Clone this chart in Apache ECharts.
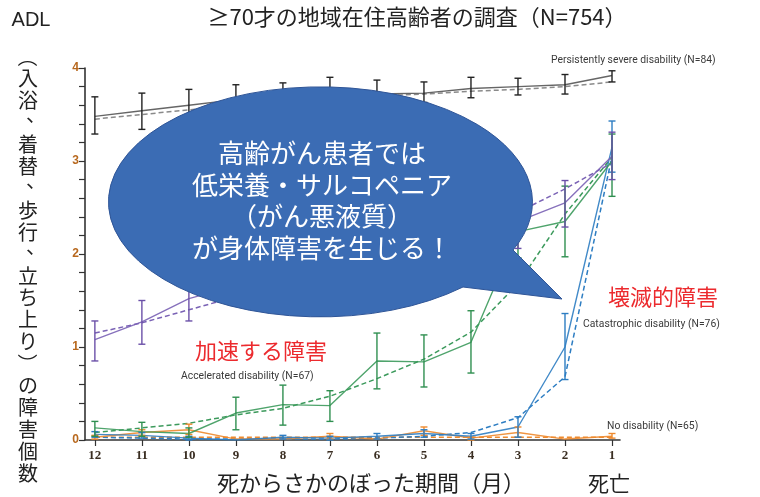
<!DOCTYPE html>
<html><head><meta charset="utf-8">
<script src="https://cdn.jsdelivr.net/npm/echarts@6/dist/echarts.min.js"></script>
<style>html,body{margin:0;padding:0;background:#fff}#c{width:760px;height:497px}</style>
</head><body><div id="c"></div>
<script>
// ---- data ----
const months = [12, 11, 10, 9, 8, 7, 6, 5, 4, 3, 2, 1];
const xTicks = [12, 11, 10, 9, 8, 7, 6, 5, 4, 3, 2, 1];
const yTicks = [0, 1, 2, 3, 4];

const severe      = [3.48, 3.54, 3.60, 3.66, 3.69, 3.71, 3.72, 3.73, 3.78, 3.80, 3.82, 3.92];
const severeLow   = [3.29, 3.34, 3.43, 3.50, 3.55, 3.58, 3.60, 3.63, 3.68, 3.71, 3.72, 3.85];
const severeHigh  = [3.69, 3.73, 3.77, 3.82, 3.84, 3.90, 3.87, 3.85, 3.90, 3.89, 3.93, 3.97];
const severeTrend = [3.45, 3.50, 3.55, 3.60, 3.64, 3.67, 3.70, 3.72, 3.75, 3.77, 3.80, 3.85];

const progressive      = [1.08, 1.27, 1.52, 1.66, 1.80, 1.92, 2.02, 2.12, 2.23, 2.35, 2.55, 3.05];
const progressiveLow   = [0.85, 1.03, 1.28, 1.44, 1.58, 1.70, 1.80, 1.90, 2.00, 2.06, 2.29, 2.80];
const progressiveHigh  = [1.28, 1.50, 1.72, 1.88, 2.02, 2.14, 2.24, 2.34, 2.46, 2.62, 2.79, 3.31];
const progressiveTrend = [1.15, 1.26, 1.40, 1.54, 1.68, 1.82, 1.96, 2.10, 2.25, 2.45, 2.70, 2.98];

const accelerated      = [0.13, 0.09, 0.07, 0.29, 0.38, 0.37, 0.85, 0.84, 1.05, 2.24, 2.35, 3.00];
const acceleratedLow   = [0.04, 0.04, 0.03, 0.11, 0.16, 0.20, 0.55, 0.57, 0.72, 1.96, 1.97, 2.62];
const acceleratedHigh  = [0.20, 0.19, 0.13, 0.46, 0.59, 0.53, 1.15, 1.13, 1.39, 2.52, 2.73, 3.29];
const acceleratedTrend = [0.08, 0.13, 0.18, 0.27, 0.34, 0.47, 0.66, 0.87, 1.16, 1.68, 2.43, 3.04];

const catastrophic      = [0.06, 0.05, 0.02, 0.00, 0.03, 0.02, 0.04, 0.07, 0.04, 0.14, 1.00, 3.15];
const catastrophicLow   = [0.03, 0.02, 0.00, 0.00, 0.01, 0.00, 0.01, 0.03, 0.01, 0.03, 0.65, 2.88];
const catastrophicHigh  = [0.09, 0.08, 0.04, 0.01, 0.05, 0.04, 0.07, 0.11, 0.07, 0.25, 1.36, 3.43];
const catastrophicTrend = [0.03, 0.02, 0.01, 0.01, 0.01, 0.01, 0.02, 0.04, 0.08, 0.24, 0.68, 3.05];

const noDisability      = [0.03, 0.08, 0.11, 0.01, 0.01, 0.04, 0.01, 0.10, 0.02, 0.08, 0.01, 0.04];
const noDisabilityLow   = [0.01, 0.05, 0.06, 0.00, 0.00, 0.01, 0.00, 0.05, 0.00, 0.03, 0.00, 0.02];
const noDisabilityHigh  = [0.05, 0.11, 0.17, 0.01, 0.01, 0.07, 0.01, 0.14, 0.03, 0.14, 0.01, 0.07];
const noDisabilityTrend = [0.03, 0.03, 0.03, 0.03, 0.03, 0.03, 0.03, 0.03, 0.03, 0.03, 0.03, 0.03];

const titleText = '≥70才の地域在住高齢者の調査（N=754）';
const yTitleTop = 'ADL';
const yTitleVertical = '（入浴、着替、歩行、立ち上り）の障害個数';
const xTitle = '死からさかのぼった期間（月）';
const xTitleEnd = '死亡';
const bubbleLines = ['高齢がん患者では', '低栄養・サルコペニア', '（がん悪液質）', 'が身体障害を生じる！'];

// ---- chart ----
const JP = '"Noto Sans CJK JP", sans-serif';
const NARROW = '"Liberation Sans Narrow", "Roboto", sans-serif';

function pairs(vals) { return months.map((m, i) => [m, vals[i]]); }
function lineS(vals, color, dashed, width, z) {
  return {
    type: 'line', data: pairs(vals), symbol: 'none', silent: true, z: z,
    lineStyle: { color: color, width: width, type: dashed ? [5, 3] : 'solid', opacity: dashed ? 1 : 0.9 }
  };
}
function errS(low, high, color, z) {
  return {
    type: 'custom', silent: true, z: z,
    data: months.map((m, i) => [m, low[i], high[i]]),
    encode: { x: 0, y: [1, 2] },
    renderItem: function (params, api) {
      const x = api.value(0), lo = api.value(1), hi = api.value(2);
      if (hi - lo < 0.015) return null;
      const a = api.coord([x, lo]), b = api.coord([x, hi]);
      const w = 3.5, st = { stroke: color, lineWidth: 1.4 };
      return { type: 'group', children: [
        { type: 'line', shape: { x1: a[0], y1: a[1], x2: b[0], y2: b[1] }, style: st },
        { type: 'line', shape: { x1: a[0] - w, y1: a[1], x2: a[0] + w, y2: a[1] }, style: st },
        { type: 'line', shape: { x1: b[0] - w, y1: b[1], x2: b[0] + w, y2: b[1] }, style: st }
      ] };
    }
  };
}

const cOrange = '#ee8a2e', cBlue = '#2d7dc2', cGreen = '#2f8f50', cPurple = '#6b50a8';

const series = [
  lineS(noDisabilityTrend, cOrange, true, 1.5, 2),
  lineS(noDisability, cOrange, false, 1.4, 3),
  errS(noDisabilityLow, noDisabilityHigh, cOrange, 4),
  lineS(catastrophicTrend, cBlue, true, 1.5, 2),
  lineS(catastrophic, cBlue, false, 1.4, 3),
  errS(catastrophicLow, catastrophicHigh, cBlue, 4),
  lineS(acceleratedTrend, '#3c9a5c', true, 1.5, 2),
  lineS(accelerated, '#3c9a5c', false, 1.4, 3),
  errS(acceleratedLow, acceleratedHigh, cGreen, 4),
  lineS(progressiveTrend, '#7a62b5', true, 1.5, 2),
  lineS(progressive, '#7a62b5', false, 1.4, 3),
  errS(progressiveLow, progressiveHigh, cPurple, 4),
  lineS(severeTrend, '#8a8a8a', true, 1.5, 2),
  lineS(severe, '#555555', false, 1.4, 3),
  errS(severeLow, severeHigh, '#222222', 4),
  {
    // callout bubble (decoration, pixel space)
    type: 'custom', coordinateSystem: 'none', silent: true, z: 50, data: [0],
    renderItem: function () {
      return {
        type: 'path',
        shape: { pathData: 'M 513 250 L 562 299 L 463 287 A 212 115 0 1 1 513 250 Z' },
        style: { fill: '#3b6cb4', stroke: '#2f5597', lineWidth: 1 }
      };
    }
  }
];

const graphics = [];
function txt(text, x, y, font, fill, align, sx) {
  graphics.push({ type: 'text', z: 200, x: x, y: y, scaleX: sx || 1,
    style: { text: text, x: 0, y: 0, font: font, fill: fill, align: align || 'left', verticalAlign: 'middle' } });
}
txt(titleText, 417, 17, '22px ' + JP, '#222', 'center');
txt(yTitleTop, 31, 20, '20px "Liberation Sans", sans-serif', '#222', 'center');
Array.from(yTitleVertical).forEach((ch, i) => {
  const cy = 57 + i * 21.9;
  if (ch === '（' || ch === '）') {
    graphics.push({ type: 'text', z: 200, x: 28, y: cy, rotation: -Math.PI / 2,
      style: { text: ch, x: 0, y: 0, font: '20px ' + JP, fill: '#222', align: 'center', verticalAlign: 'middle' } });
  } else if (ch === '、') {
    txt(ch, 28 + 8, cy - 8, '20px ' + JP, '#222', 'center');
  } else {
    txt(ch, 28, cy, '20px ' + JP, '#222', 'center');
  }
});
txt(xTitle, 371, 483, '22px ' + JP, '#222', 'center');
txt(xTitleEnd, 609, 483, '21px ' + JP, '#222', 'center');

txt('Persistently severe disability (N=84)', 551, 60, '11.5px ' + NARROW, '#3a3a3a', 'left', 0.9);
txt('Catastrophic disability (N=76)', 583, 324, '11.5px ' + NARROW, '#3a3a3a', 'left', 0.9);
txt('No disability (N=65)', 607, 426, '11.5px ' + NARROW, '#3a3a3a', 'left', 0.9);
txt('Accelerated disability (N=67)', 181, 376, '11.5px ' + NARROW, '#3a3a3a', 'left', 0.9);
txt('壊滅的障害', 608, 297, '22px ' + JP, '#ec2a2e', 'left');
txt('加速する障害', 195, 351, '22px ' + JP, '#ec2a2e', 'left');

bubbleLines.forEach((s, i) => {
  txt(s, 322, 153 + i * 31.8, '26px ' + JP, '#ffffff', 'center');
});

const option = {
  animation: false,
  backgroundColor: '#ffffff',
  grid: { left: 85, right: 140, top: 68, bottom: 57 },
  xAxis: {
    type: 'value', inverse: true, min: 0.83, max: 12.21,
    splitLine: { show: false },
    axisLine: { show: true, lineStyle: { color: '#333', width: 1.6 } },
    axisTick: { show: true, customValues: xTicks, length: 6, lineStyle: { color: '#333', width: 1.2 } },
    axisLabel: { customValues: xTicks, margin: 9, color: '#3a2e22', fontSize: 13, fontWeight: 'bold', fontFamily: '"Liberation Serif", serif' }
  },
  yAxis: {
    type: 'value', min: 0, max: 4, interval: 1,
    splitLine: { show: false },
    axisLine: { show: true, lineStyle: { color: '#333', width: 1.6 } },
    axisTick: { show: true, length: 6, lineStyle: { color: '#333', width: 1.2 } },
    minorTick: { show: true, splitNumber: 5, length: 6, lineStyle: { color: '#333', width: 1.2 } },
    axisLabel: { margin: 6, color: '#b8691f', fontSize: 12, fontWeight: 'bold', fontFamily: '"Liberation Sans Narrow", "Liberation Sans", sans-serif' }
  },
  series: series,
  graphic: graphics
};
const chart = echarts.init(document.getElementById('c'), null, { renderer: 'canvas' });
chart.setOption(option);
</script>
</body></html>
